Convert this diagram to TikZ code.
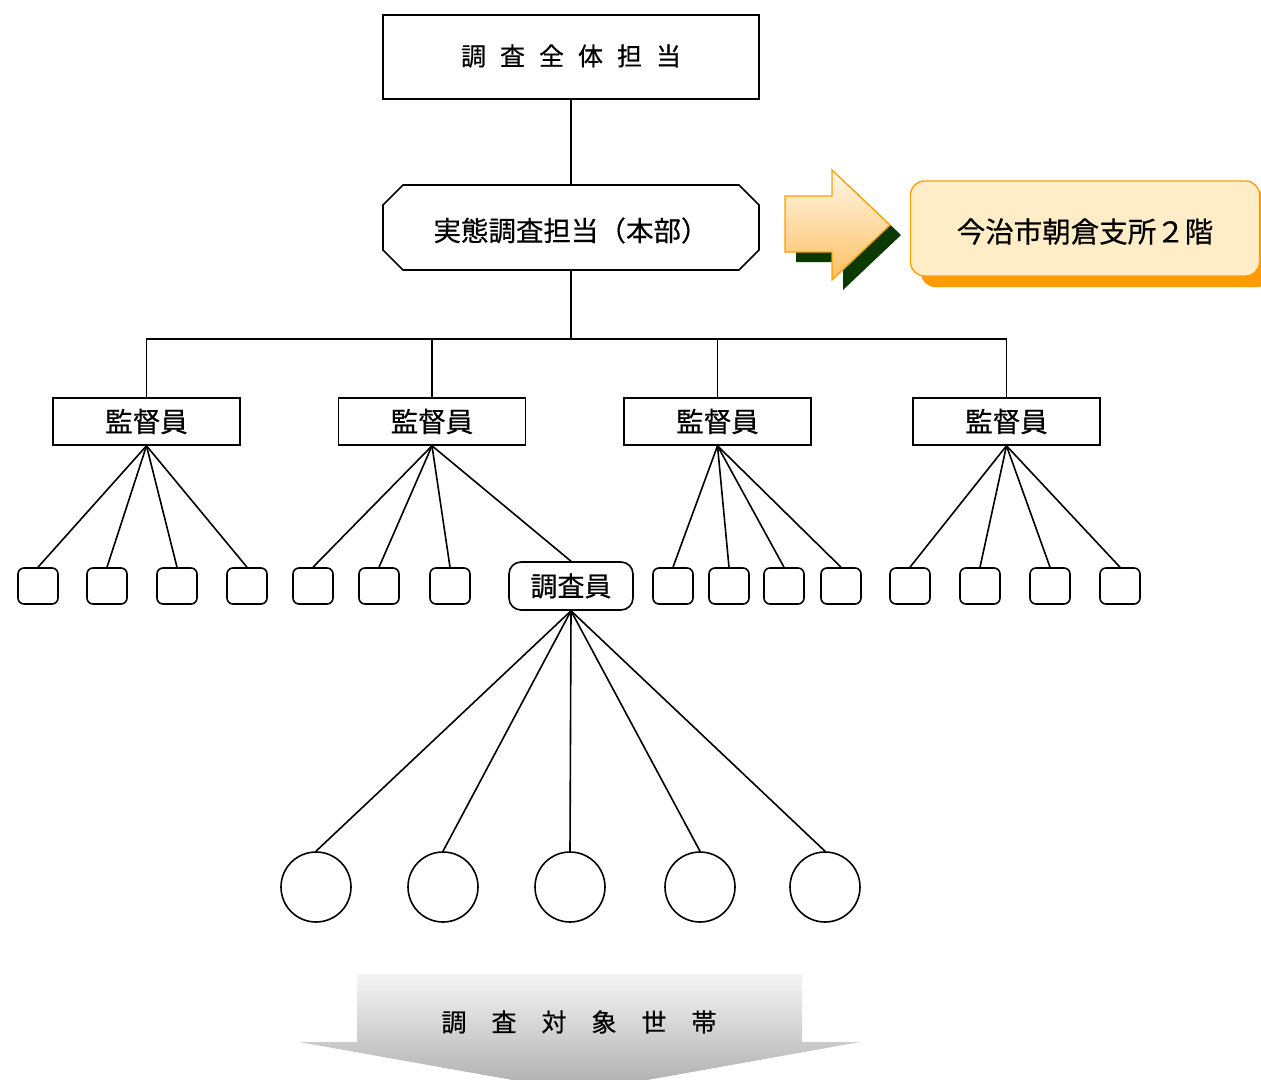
\documentclass[tikz,border=0pt]{standalone}
\usepackage{fontspec}
\setmainfont[FakeBold=0.5]{Noto Sans CJK JP}
\usetikzlibrary{shapes.misc}
\definecolor{shadowgreen}{HTML}{0A3A00}
\definecolor{arrowedge}{HTML}{FFA000}
\definecolor{arrowtop}{HTML}{FFF7E8}
\definecolor{arrowbot}{HTML}{FFC060}
\definecolor{boxfill}{HTML}{FFEDC8}
\definecolor{boxshadow}{HTML}{FF9A00}
\tikzset{
  ln/.style={line width=1.6pt},
  headbox/.style={draw, ln, inner sep=0pt, minimum width=376pt, minimum height=84pt, font=\fontsize{25}{30}\selectfont},
  hqbox/.style={draw, ln, chamfered rectangle, chamfered rectangle xsep=10pt, chamfered rectangle ysep=10pt, chamfered rectangle sep=10pt, inner sep=0pt, minimum width=376pt, minimum height=85pt, font=\fontsize{27.5}{30}\selectfont},
  supbox/.style={draw, ln, inner sep=0pt, minimum width=187pt, minimum height=47pt, font=\fontsize{27.5}{30}\selectfont},
  smallbox/.style={draw, ln, rounded corners=6pt, inner sep=0pt, minimum width=40pt, minimum height=36pt},
  invbox/.style={draw, ln, rounded corners=12pt, inner sep=0pt, minimum width=124pt, minimum height=48pt, font=\fontsize{27}{30}\selectfont},
  hh/.style={draw, ln, circle, inner sep=0pt, minimum size=70pt},
}
\newcommand{\gapx}[1]{\hspace{#1pt}}
\newcommand{\dn}[2]{\raisebox{-#1pt}[\height][\depth]{#2}}
\begin{document}
\begin{tikzpicture}[x=1pt,y=-1pt]
\useasboundingbox (0,0) rectangle (1261,1079);
\begin{scope}
\clip (0,0) rectangle (1261,1079);
% right arrow with shadow
\fill[shadowgreen, shift={(11,10)}] (785,196) -- (832,196) -- (832,170) -- (890,225) -- (832,280) -- (832,252) -- (785,252) -- cycle;
\shade[top color=arrowtop, bottom color=arrowbot, draw=arrowedge, line width=1.3pt]
  (785,196) -- (832,196) -- (832,170) -- (890,225) -- (832,280) -- (832,252) -- (785,252) -- cycle;
% location box
\fill[boxshadow, rounded corners=14pt] (921,191) rectangle (1271,287);
\node[draw=arrowedge, fill=boxfill, line width=1.4pt, rounded corners=14pt, inner sep=0pt, minimum width=349pt, minimum height=95pt, font=\fontsize{28.5}{30}\selectfont] (loc) at (1085,228.5) {\dn{3}{今治市朝倉支所２階}};
% bottom arrow
\shade[top color=gray!8, bottom color=gray!65]
  (357,974) -- (802,974) -- (802,1042) -- (860,1042) -- (580,1092) -- (299,1042) -- (357,1042) -- cycle;
\node[font=\fontsize{25}{30}\selectfont, inner sep=0pt] (target) at (579,1022) {調\gapx{25}査\gapx{25}対\gapx{25}象\gapx{25}世\gapx{25}帯};
\end{scope}

% hierarchy
\node[headbox] (top) at (571,57) {\dn{-1}{調\gapx{14}査\gapx{14}全\gapx{14}体\gapx{14}担\gapx{14}当}};
\node[hqbox] (hq) at (571,227.5) {\dn{3}{実態調査担当（本部）}};
\coordinate (bus) at (571,339);

\node[supbox] (s1) at (146.5,421.5) {監督員};
\node[supbox] (s2) at (432,421.5) {監督員};
\node[supbox] (s3) at (717.5,421.5) {監督員};
\node[supbox] (s4) at (1006.5,421.5) {監督員};

\draw[ln] (top.south) -- (hq.north);
\draw[ln] (hq.south) -- (bus);
\draw[ln] (s1.north) |- (bus) -| (s4.north);
\draw[ln] (s2.north) -- (s2.north |- bus);
\draw[ln] (s3.north) -- (s3.north |- bus);

% small boxes
\foreach \n/\x in {11/38,12/107,13/177,14/247,21/313,22/379,23/450,31/673,32/729,33/784,34/841,41/910,42/980,43/1050,44/1120}{
  \node[smallbox] (b\n) at (\x,586) {};
}
\node[invbox] (inv) at (571,586) {調査員};

\foreach \n in {11,12,13,14}{\draw[ln] (s1.south) -- (b\n.north);}
\foreach \n in {21,22,23}{\draw[ln] (s2.south) -- (b\n.north);}
\draw[ln] (s2.south) -- (inv.north);
\foreach \n in {31,32,33,34}{\draw[ln] (s3.south) -- (b\n.north);}
\foreach \n in {41,42,43,44}{\draw[ln] (s4.south) -- (b\n.north);}

% households
\foreach \n/\x in {1/316,2/443,3/570,4/700,5/825}{
  \node[hh] (h\n) at (\x,887) {};
  \draw[ln] (inv.south) -- (h\n.north);
}
\end{tikzpicture}
\end{document}
